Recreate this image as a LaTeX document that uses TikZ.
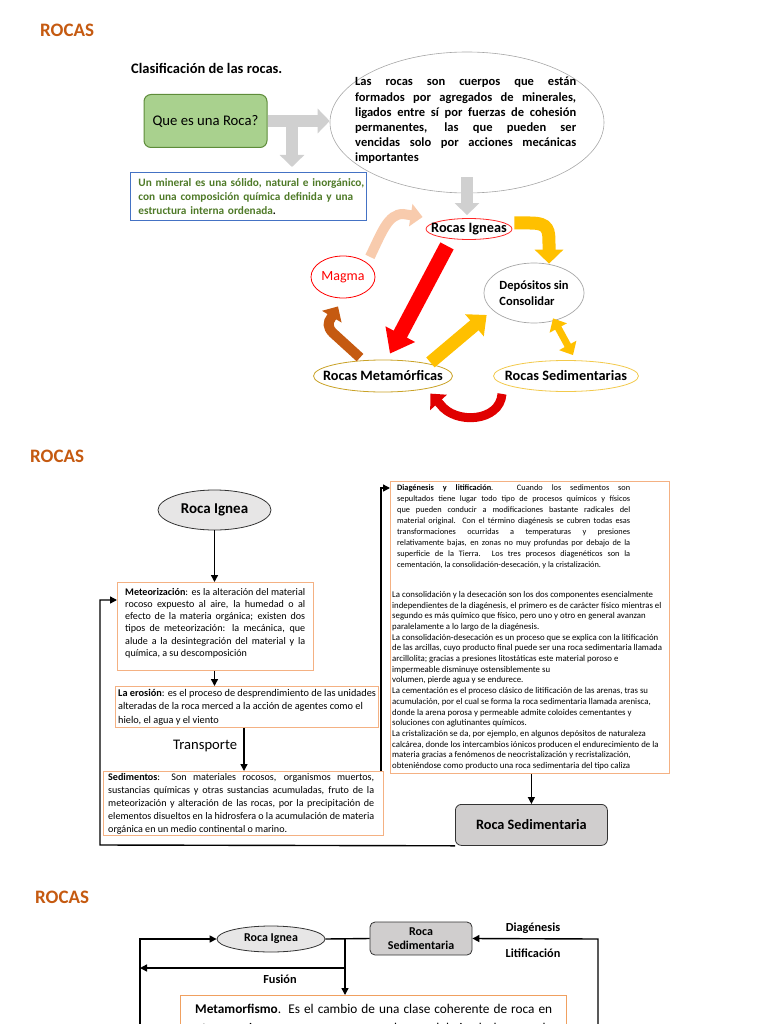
\documentclass[tikz,border=0pt]{standalone}
\usepackage{fontspec}
\setmainfont{Carlito}
\usetikzlibrary{arrows.meta,shapes.geometric,calc}
\definecolor{rorange}{HTML}{C55A11}
\definecolor{gfill}{HTML}{A9D18E}
\definecolor{gdraw}{HTML}{5E8C3A}
\definecolor{gtext}{HTML}{4F7A28}
\definecolor{bdraw}{HTML}{4472C4}
\definecolor{peach}{HTML}{F4B183}
\definecolor{peachfill}{HTML}{F8CBAD}
\definecolor{amber}{HTML}{FFC000}
\definecolor{lgray}{HTML}{D0D0D0}
\definecolor{egray}{HTML}{A6A6A6}
\definecolor{goldd}{HTML}{C9A227}
\definecolor{goldl}{HTML}{F2C94C}
\definecolor{boxgray}{HTML}{D0CECE}
\definecolor{ellgray}{HTML}{E7E6E6}
\definecolor{brownr}{HTML}{C55A11}
\definecolor{metaor}{HTML}{F0A060}
\newcommand{\JL}[2]{\makebox[#1][s]{#2}}
\newcommand{\fs}[2]{\fontsize{#1}{#2}\selectfont}
\tikzset{
  title/.style={anchor=west,inner sep=0,text=rorange,font=\bfseries\fs{19}{22}},
  blk/.style n args={4}{draw=#1,line width=#2,-{Triangle[length=#3,width=#4]}},
  flow/.style={draw=black,line width=1.4pt,-{Triangle[length=7pt,width=7pt]}},
  plain/.style={draw=black,line width=1.4pt},
  pbox/.style={draw=peach,line width=0.8pt,inner sep=0,anchor=north west},
  txt/.style={anchor=north west,inner sep=0,align=left},
}
\begin{document}
\begin{tikzpicture}[x=1pt,y=-1pt]
\useasboundingbox (0,0) rectangle (768,1024);
% ---------------- Section 1 ----------------
\node[title] (t1) at (40,30) {ROCAS};
\node[anchor=west,inner sep=0,font=\bfseries\fs{14.5}{16}] (clas) at (131,68) {Clasificación de las rocas.};
\node[draw=gdraw,fill=gfill,rounded corners=7pt,minimum width=123,minimum height=53,line width=1pt,font=\fs{14.7}{16}] (q) at (205.5,121) {Que es una Roca?};
\node[ellipse,draw=egray,line width=0.6pt,minimum width=274,minimum height=141] (def) at (467,122.5) {};
\node[txt,font=\bfseries\fs{12.5}{15.2}] (deftext) at (355,77) {%
\JL{221pt}{Las rocas son cuerpos que están}\\
\JL{221pt}{formados por agregados de minerales,}\\
\JL{221pt}{ligados entre sí por fuerzas de cohesión}\\
\JL{221pt}{permanentes, las que pueden ser}\\
\JL{221pt}{vencidas solo por acciones mecánicas}\\
importantes};
\node[draw=bdraw,line width=0.9pt,anchor=north west,minimum width=236,minimum height=48,text width=220,inner xsep=8,inner ysep=0,align=left,font=\bfseries\fs{11.3}{14}] (mineral) at (130,172) {%
\color{gtext}\JL{220pt}{Un mineral es una  sólido, natural e inorgánico,}\\
\JL{220pt}{con una composición química definida y una}\\
estructura interna ordenada{\color{black}.}};
\coordinate (tj) at (292,121);
\draw[blk={lgray}{12pt}{12pt}{24pt}] (q.east) -- (q.east -| def.west);
\draw[blk={lgray}{12pt}{12pt}{24pt},shorten >=5pt] (tj) -- (tj |- mineral.north);
% cycle nodes
\node[ellipse,draw=red!85,line width=0.8pt,minimum width=86,minimum height=21,label={[font=\bfseries\fs{14.3}{15}]center:Rocas Igneas}] (ig) at (469,229) {};
\draw[blk={lgray}{12pt}{12pt}{24pt},shorten >=3pt] ($(def.south)+(0,-16)$) -- (def.south |- ig.north);
\node[ellipse,draw=red,line width=0.8pt,minimum width=64,minimum height=42,label={[text=red,font=\fs{14}{15}]center:Magma}] (mag) at (343,277) {};
\node[ellipse,draw=egray,line width=0.7pt,minimum width=100,minimum height=60,label={[align=left,font=\bfseries\fs{12.5}{16}]center:Depósitos sin\\Consolidar}] (dep) at (534,293) {};
\node[ellipse,draw=goldd,line width=0.8pt,minimum width=139,minimum height=32,label={[font=\bfseries\fs{14.3}{15}]center:Rocas Metamórficas}] (meta) at (383,376) {};
\node[ellipse,draw=goldl,line width=0.8pt,minimum width=145,minimum height=31,label={[font=\bfseries\fs{14.3}{15}]center:Rocas Sedimentarias}] (sedr) at (566,376) {};
% cycle arrows
\draw[blk={peachfill}{10pt}{12pt}{22pt}] ($(mag.north east)+(4,-5)$) .. controls (382,232) and (388,214) .. (403,214) -- ($(ig.west)+(-3,-12)$);
\draw[blk={amber}{13pt}{14pt}{28pt}] ($(ig.east)+(2,-6)$) -- (530,223) .. controls (549,223) and (549,230) .. (549,245) -- ($(dep.north)+(15,1)$);
\draw[blk={red}{15pt}{22pt}{32pt}] ($(ig.south)+(-22,6)$) -- ($(meta.north)+(7,-6)$);
\draw[blk={amber}{13pt}{16pt}{28pt}] ($(meta.north east)+(-2,-2)$) -- ($(dep.west)+(3,22)$);
\draw[draw=amber,line width=7pt,{Triangle[length=11pt,width=19pt]}-{Triangle[length=11pt,width=19pt]}] ($(dep.south)+(19,-5)$) -- ($(sedr.north)+(7,-5)$);
\draw[blk={brownr}{10pt}{12pt}{22pt}] ($(meta.north)+(-23,-2)$) -- (333,333) .. controls (327,327) and (328,322) .. (331,318) -- ($(mag.south)+(-5,8)$);
\draw[blk={red!88!black}{9pt}{12pt}{22pt}] ($(sedr.south)+(-64,2)$) .. controls (500,422) and (455,425) .. (440,404) -- ($(meta.south east)+(-2,6)$);
% ---------------- Section 2 ----------------
\node[title] (t2) at (30,456) {ROCAS};
\node[ellipse,draw=black!80,fill=ellgray,line width=0.8pt,minimum width=113,minimum height=40,label={[font=\bfseries\fs{15}{16}]center:Roca Ignea}] (ri) at (214.5,510) {};
\node[pbox,minimum width=196,minimum height=88] (met) at (117,582) {};
\node[txt,font=\fs{10.1}{12.2}] (mettext) at (125,588) {%
\JL{180pt}{\textbf{Meteorización}: es la alteración del material}\\
\JL{180pt}{rocoso expuesto al aire, la humedad o al}\\
\JL{180pt}{efecto de la materia orgánica; existen dos}\\
\JL{180pt}{tipos de meteorización: la mecánica, que}\\
\JL{180pt}{alude a la desintegración del material y la}\\
química, a su descomposición};
\node[pbox,minimum width=263,minimum height=41] (ero) at (115,686) {};
\node[txt,font=\fs{10.3}{13.5}] (erotext) at (118,689) {%
\textbf{La erosión}: es el proceso de desprendimiento de las  unidades\\
alteradas de la roca merced  a  la acción de  agentes  como el\\
hielo, el agua y el viento};
\node[anchor=west,inner sep=0,font=\fs{14.6}{16}] (tr) at (173,746) {Transporte};
\node[pbox,minimum width=280,minimum height=64] (sed) at (103,771) {};
\node[txt,font=\fs{10.1}{13}] (sedtext) at (108,773) {%
\JL{266pt}{\textbf{Sedimentos}: Son materiales rocosos, organismos muertos,}\\
\JL{266pt}{sustancias químicas y otras sustancias acumuladas, fruto de la}\\
\JL{266pt}{meteorización y alteración de las rocas, por la precipitación de}\\
\JL{266pt}{elementos disueltos en la hidrosfera o la acumulación de materia}\\
orgánica en un medio continental o marino.};
\node[pbox,minimum width=279,minimum height=292] (diag) at (390,481) {};
\node[txt,font=\fs{8.3}{11}] (diagtext) at (397,484) {%
\JL{233pt}{\textbf{Diagénesis y litificación}. Cuando los sedimentos son}\\
\JL{233pt}{sepultados tiene lugar todo tipo de procesos químicos y físicos}\\
\JL{233pt}{que pueden conducir a modificaciones bastante radicales del}\\
\JL{233pt}{material original. Con el término diagénesis se cubren todas esas}\\
\JL{233pt}{transformaciones ocurridas a temperaturas y presiones}\\
\JL{233pt}{relativamente bajas, en zonas no muy profundas por debajo de la}\\
\JL{233pt}{superficie de la Tierra. Los tres procesos diagenéticos son la}\\
cementación, la consolidación-desecación, y la cristalización.};
\node[txt,font=\fs{8.8}{10.7}] (diagtext2) at (392,591) {%
La consolidación y la desecación son los dos componentes esencialmente\\
independientes de la diagénesis, el primero es de carácter físico mientras el\\
segundo es más químico que físico, pero uno y otro en general avanzan\\
paralelamente a lo largo de la diagénesis.\\
La consolidación-desecación es un proceso que se explica con la litificación\\
de las arcillas, cuyo producto final puede ser una roca sedimentaria llamada\\
arcillolita; gracias  a presiones litostáticas este material poroso e\\
impermeable disminuye ostensiblemente su\\
volumen, pierde agua y se endurece.\\
La cementación es el proceso clásico de litificación de las arenas, tras su\\
acumulación, por el cual se forma la roca sedimentaria llamada arenisca,\\
donde la arena porosa y permeable admite coloides cementantes y\\
soluciones con aglutinantes químicos.\\
La cristalización se da, por ejemplo, en algunos depósitos de naturaleza\\
calcárea, donde los intercambios iónicos producen el endurecimiento de la\\
materia gracias a fenómenos de neocristalización y recristalización,\\
obteniéndose como producto una roca sedimentaria del tipo caliza};
\node[draw=black!80,fill=boxgray,rounded corners=6pt,line width=0.8pt,minimum width=152,minimum height=41,anchor=north west,font=\bfseries\fs{14.3}{15}] (rs) at (455,804) {Roca Sedimentaria};
\coordinate (xa) at (244,0);
\draw[flow] (ri.south) -- (met.north -| ri.south);
\draw[flow] (met.south -| ri.south) -- (ero.north -| ri.south);
\draw[flow] (ero.south -| xa) -- (sed.north -| xa);
\draw[flow] (diag.south -| rs.north) -- (rs.north);
\coordinate (lb) at (100,845);
\coordinate (lt) at (100,600);
\draw[flow] (rs.south west) -- (lb) -- (lt) -- (lt -| met.west);
\coordinate (rt) at (381,488);
\draw[flow] (sed.north -| rt) -- (rt) -- (rt -| diag.west);
% ---------------- Section 3 ----------------
\node[title] (t3) at (35,897) {ROCAS};
\node[ellipse,draw=black!80,fill=ellgray,line width=0.8pt,minimum width=108,minimum height=26,label={[font=\bfseries\fs{12}{13}]center:Roca Ignea}] (ri3) at (271,939) {};
\node[draw=black!80,fill=boxgray,rounded corners=5pt,line width=0.8pt,minimum width=102,minimum height=33,align=center,font=\bfseries\fs{12}{14}] (rs3) at (421,938.5) {Roca\\Sedimentaria};
\node[draw=metaor,line width=0.9pt,anchor=north west,minimum width=386,minimum height=120,inner sep=0] (meta3) at (180,995) {};
\node[txt,font=\fs{13.3}{18.5}] (meta3text) at (195,1004) {%
\JL{357pt}{\textbf{Metamorfismo}. Es el cambio de una clase coherente de roca en}\\
\JL{357pt}{otra, gracias a un proceso que se da por debajo de la zona de}};
\coordinate (j3) at (345,939);
\coordinate (fj) at (345,968);
\coordinate (fl) at (140,968);
\draw[plain] (ri3.east) -- (rs3.west);
\draw[flow] (j3) -- (j3 |- meta3.north);
\draw[flow] (fj) -- (fl);
\node[font=\bfseries\fs{12.3}{13},inner sep=0] (fus) at (280,979) {Fusión};
\coordinate (lb3) at (140,1040);
\coordinate (lt3) at (140,939);
\draw[flow] (lb3) -- (lt3) -- (ri3.west);
\coordinate (rb3) at (598,1040);
\coordinate (rt3) at (598,939);
\draw[flow] (rb3) -- (rt3) -- (rs3.east);
\node[font=\bfseries\fs{12.3}{13},inner sep=0] (dia) at (533,928) {Diagénesis};
\node[font=\bfseries\fs{12.3}{13},inner sep=0] (lit) at (533,953) {Litificación};
\end{tikzpicture}
\end{document}
